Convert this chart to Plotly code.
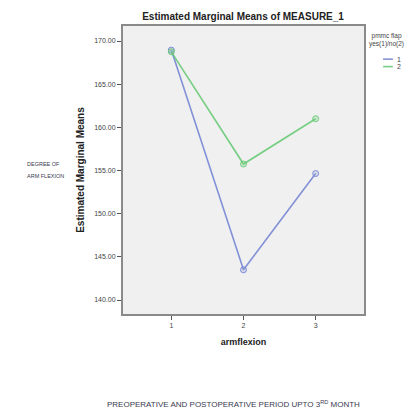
import plotly.graph_objects as go

categories = [1, 2, 3]
series_names = ["1", "2"]
values_1 = [168.95, 143.5, 154.65]
values_2 = [168.75, 155.75, 161.0]
y_ticks = [140, 145, 150, 155, 160, 165, 170]
y_tick_labels = ["140.00", "145.00", "150.00", "155.00", "160.00", "165.00", "170.00"]

colors = ["rgba(110,128,210,0.85)", "rgba(96,200,112,0.85)"]
fills = ["rgba(150,160,220,0.3)", "rgba(120,210,130,0.3)"]
font = "Liberation Sans, Arial, sans-serif"

fig = go.Figure()
for name, vals, c, f in zip(series_names, [values_1, values_2], colors, fills):
    fig.add_trace(go.Scatter(
        x=categories, y=vals, mode="lines+markers", name=name, showlegend=False,
        line=dict(color=c, width=1.6),
        marker=dict(symbol="circle", size=6, color=f, line=dict(color=c, width=1)),
    ))

fig.update_layout(
    width=406, height=404,
    margin=dict(l=115, r=50, t=18, b=98, autoexpand=False),
    paper_bgcolor="white", plot_bgcolor="#f0f0f0",
    font=dict(family=font, color="#333", size=7),
    title=dict(text="<b>Estimated Marginal Means of MEASURE_1</b>", x=0.579, xanchor="center",
               y=0.978, yanchor="middle", font=dict(size=10, color="#222")),
    showlegend=False,
)
fig.update_xaxes(
    range=[0.33, 3.67], tickvals=categories, ticktext=[str(c) for c in categories],
    ticks="outside", ticklen=4, tickcolor="#555", showgrid=False, zeroline=False,
    showline=True, linecolor="#8a8a8a", linewidth=2, mirror=True,
    title=dict(text="<b>armflexion</b>", font=dict(size=9, color="#222"), standoff=10),
    tickfont=dict(size=7, color="#444"),
)
fig.update_yaxes(
    range=[138.38, 171.74], tickvals=y_ticks, ticktext=y_tick_labels,
    ticks="outside", ticklen=4, tickcolor="#555", showgrid=False, zeroline=False,
    showline=True, linecolor="#8a8a8a", linewidth=2, mirror=True,
    title=dict(text="<b>Estimated Marginal Means</b>", font=dict(size=10, color="#222"), standoff=8),
    tickfont=dict(size=7, color="#444"),
)

# custom legend (title, short line samples, labels)
fig.add_annotation(text="pmmc flap<br>yes(1)/no(2)", xref="paper", yref="paper",
                   x=1.095, y=0.951, xanchor="center", yanchor="middle", showarrow=False,
                   align="center", font=dict(size=6.5, color="#444"))
for i, (name, c) in enumerate(zip(series_names, colors)):
    yy = 0.885 - i * 0.026
    fig.add_shape(type="line", xref="paper", yref="paper", x0=1.079, x1=1.12, y0=yy, y1=yy,
                  line=dict(color=c, width=1.6))
    fig.add_annotation(text=name, xref="paper", yref="paper", x=1.128, y=yy,
                       xanchor="left", yanchor="middle", showarrow=False,
                       font=dict(size=7, color="#444"))

fig.add_annotation(text="DEGREE OF", xref="paper", yref="paper",
                   x=-0.407, y=0.52, xanchor="left", yanchor="middle", showarrow=False,
                   font=dict(size=5.5, color="#3a3a50"))
fig.add_annotation(text="ARM FLEXION", xref="paper", yref="paper",
                   x=-0.407, y=0.48, xanchor="left", yanchor="middle", showarrow=False,
                   font=dict(size=5.5, color="#3a3a50"))
fig.add_annotation(text="PREOPERATIVE AND POSTOPERATIVE PERIOD UPTO 3<sup>RD</sup> MONTH",
                   xref="paper", yref="paper", x=0.46, y=-0.3125, xanchor="center", yanchor="middle",
                   showarrow=False, font=dict(size=8, color="#3a3a50"))

fig.write_html("out.html")
